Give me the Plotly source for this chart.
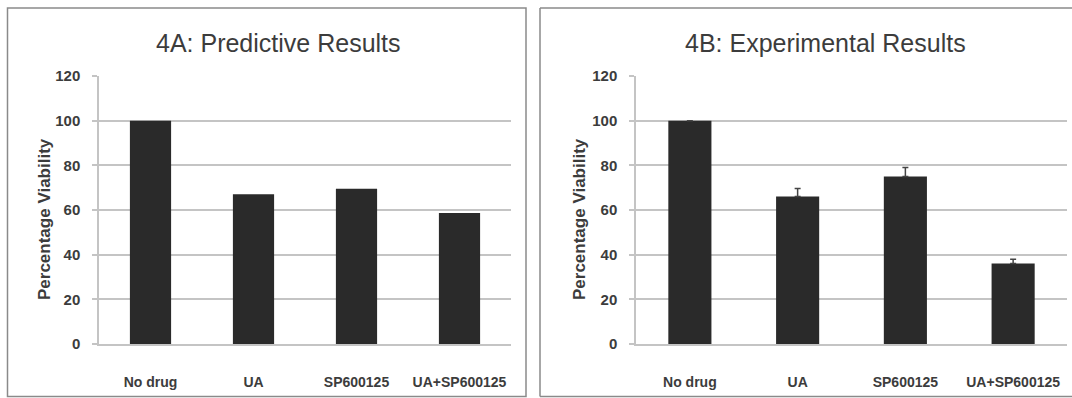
import plotly.graph_objects as go

categories = ["No drug", "UA", "SP600125", "UA+SP600125"]
predictive_values = [100, 67, 69.5, 58.7]
experimental_values = [100, 66, 75, 36]
experimental_err_plus = [0, 3.6, 4, 2]
y_ticks = [0, 20, 40, 60, 80, 100, 120]

W, H = 1072, 398
def px(x):
    return x / W
def py(y):
    return 1 - y / H

BAR = "#2a2a2a"
GRID = "#c4c4c4"
TXT = "#3c3c3c"
BORDER = "#8a8a8a"
ytick_font = dict(family="Liberation Sans, Arial", size=15, color=TXT, weight="bold")
xtick_font = dict(family="Liberation Sans, Arial", size=14, color=TXT, weight="bold")

fig = go.Figure()
fig.add_trace(go.Bar(x=categories, y=predictive_values, marker=dict(color=BAR, line=dict(width=0)),
                     xaxis="x", yaxis="y", showlegend=False))
fig.add_trace(go.Bar(x=categories, y=experimental_values, marker=dict(color=BAR, line=dict(width=0)),
                     error_y=dict(type="data", symmetric=False, array=experimental_err_plus,
                                  arrayminus=[0] * len(categories), color="#444444", thickness=1.5, width=3),
                     xaxis="x2", yaxis="y2", showlegend=False))

def xaxis_cfg(d0, d1, anchor):
    return dict(domain=[px(d0), px(d1)], anchor=anchor, type="category", automargin=False,
                showline=True, linecolor=GRID, linewidth=1.5, ticks="", showgrid=False,
                tickfont=xtick_font, ticklabelstandoff=24, fixedrange=True)

def yaxis_cfg(anchor):
    return dict(domain=[py(344), py(76)], anchor=anchor, range=[0, 120], tickvals=y_ticks, automargin=False,
                showgrid=True, gridcolor=GRID, gridwidth=1.5, zeroline=False,
                showline=True, linecolor=GRID, linewidth=1.5,
                ticks="outside", ticklen=5, tickcolor=GRID, tickwidth=1.5,
                tickfont=ytick_font, ticklabelstandoff=9, fixedrange=True)

fig.update_layout(
    width=W, height=H, margin=dict(l=0, r=0, t=0, b=0, pad=0, autoexpand=False),
    paper_bgcolor="white", plot_bgcolor="white",
    bargap=0.6,
    xaxis=xaxis_cfg(99, 511, "y"),
    yaxis=yaxis_cfg("x"),
    xaxis2=xaxis_cfg(636, 1067, "y2"),
    yaxis2=yaxis_cfg("x2"),
)

border_line = dict(color=BORDER, width=1.5)
shapes = [
    dict(type="rect", xref="paper", yref="paper", x0=px(7.5), x1=px(526), y0=py(396.5), y1=py(8),
         line=border_line, fillcolor="rgba(0,0,0,0)", layer="below"),
    # panel B frame: left, top, bottom (right edge lies beyond the image)
    dict(type="line", xref="paper", yref="paper", x0=px(540), x1=px(540), y0=py(396.5), y1=py(8),
         line=border_line, layer="below"),
    dict(type="line", xref="paper", yref="paper", x0=px(540), x1=1, y0=py(8), y1=py(8),
         line=border_line, layer="below"),
    dict(type="line", xref="paper", yref="paper", x0=px(540), x1=1, y0=py(396.5), y1=py(396.5),
         line=border_line, layer="below"),
]
fig.update_layout(shapes=shapes)

title_font = dict(family="Liberation Sans, Arial", size=25, color=TXT)
ytitle_font = dict(family="Liberation Sans, Arial", size=17, color=TXT, weight="bold")
annotations = [
    dict(text="4A: Predictive Results", x=px(278), y=py(43), xref="paper", yref="paper",
         xanchor="center", yanchor="middle", showarrow=False, font=title_font),
    dict(text="4B: Experimental Results", x=px(825), y=py(43), xref="paper", yref="paper",
         xanchor="center", yanchor="middle", showarrow=False, font=title_font),
    dict(text="Percentage Viability", x=px(44), y=py(219), xref="paper", yref="paper",
         xanchor="center", yanchor="middle", textangle=-90, showarrow=False, font=ytitle_font),
    dict(text="Percentage Viability", x=px(579), y=py(219), xref="paper", yref="paper",
         xanchor="center", yanchor="middle", textangle=-90, showarrow=False, font=ytitle_font),
]
fig.update_layout(annotations=annotations)

fig.write_html("out.html", config={"displayModeBar": False},
               post_script="document.body.style.margin='0';document.body.style.overflow='hidden';")
